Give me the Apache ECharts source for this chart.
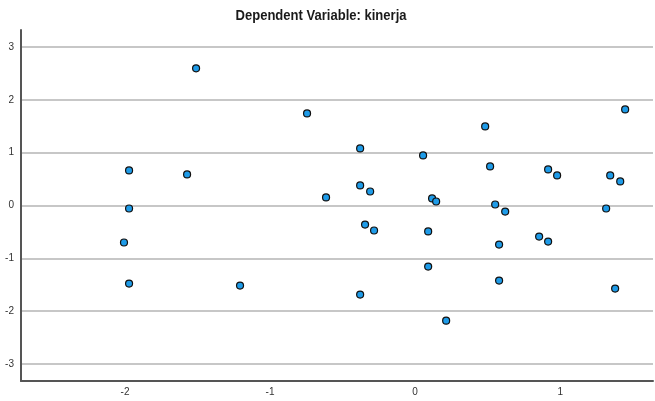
<!DOCTYPE html>
<html><head><meta charset="utf-8">
<script src="https://cdn.jsdelivr.net/npm/echarts@6/dist/echarts.min.js"></script>
<style>html,body{margin:0;padding:0;background:#fff}#c{width:655px;height:401px}</style>
</head><body><div id="c"></div>
<script>
const titleText = 'Dependent Variable: kinerja';
const xTicks = [-2, -1, 0, 1];
const yTicks = [-3, -2, -1, 0, 1, 2, 3];
const xValues = [-1.51, -0.745, 1.448, 0.483, -1.972, -1.572, -0.379, 0.055, 0.517, 0.917, 0.979, 1.345, 1.414,
  -0.614, -0.379, -0.31, 0.117, 0.145, -1.972, 0.552, 0.621, 1.317, -2.007, -0.345, -0.283, 0.09, 0.579,
  0.855, 0.917, 0.09, -1.972, -1.207, -0.379, 0.579, 1.379, 0.214];
const yValues = [2.595, 1.742, 1.818, 1.496, 0.663, 0.587, 1.08, 0.947, 0.739, 0.682, 0.568, 0.568, 0.455,
  0.152, 0.379, 0.265, 0.133, 0.076, -0.057, 0.019, -0.114, -0.057, -0.70, -0.36, -0.473, -0.49, -0.739,
  -0.587, -0.682, -1.155, -1.477, -1.515, -1.686, -1.42, -1.572, -2.178];
const points = xValues.map((x, i) => [x, yValues[i]]);
const FONT = "'Liberation Sans', Arial, sans-serif";
const titleFont = "bold 15px 'Liberation Sans', Arial, sans-serif";
const ctx = document.createElement('canvas').getContext('2d');
ctx.font = titleFont;
const titleScale = 171 / ctx.measureText(titleText).width;
const chart = echarts.init(document.getElementById('c'), null, {renderer: 'canvas'});
chart.setOption({
  animation: false,
  graphic: [{type: 'text', x: 321, y: 16, scaleX: titleScale, scaleY: 1,
    style: {text: titleText, font: titleFont, fill: '#1a1a1a', align: 'center', verticalAlign: 'middle'}}],
  grid: {left: 21, right: 2, top: 30, bottom: 20, containLabel: false},
  xAxis: {type: 'value', min: -2.717, max: 1.64,
    axisLine: {show: true, onZero: false, lineStyle: {color: '#555', width: 2}},
    axisTick: {show: false, customValues: xTicks},
    axisLabel: {customValues: xTicks, fontFamily: FONT, fontSize: 10, color: '#333', margin: 6},
    splitLine: {show: false}},
  yAxis: {type: 'value', min: -3.32, max: 3.32,
    axisLine: {show: true, onZero: false, lineStyle: {color: '#555', width: 2}},
    axisTick: {show: false, customValues: yTicks},
    axisLabel: {customValues: yTicks, fontFamily: FONT, fontSize: 10, color: '#333', margin: 7},
    splitLine: {show: true, lineStyle: {color: '#b4b4b4', width: 1.5}}},
  series: [{type: 'scatter', data: points, symbol: 'circle', symbolSize: 7,
    itemStyle: {color: '#1e9be8', borderColor: '#111', borderWidth: 1.2, opacity: 1}}]
});
</script></body></html>
